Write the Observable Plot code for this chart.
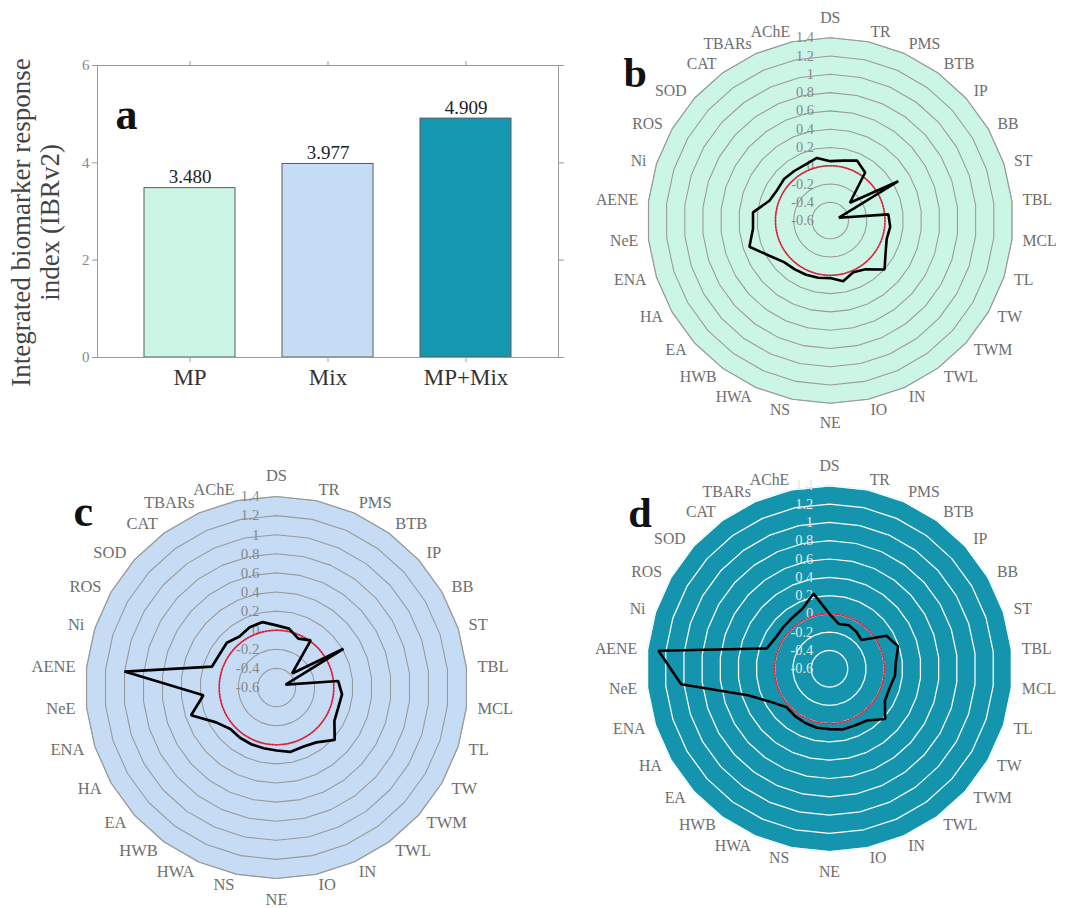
<!DOCTYPE html>
<html><head><meta charset="utf-8">
<script src="https://cdn.jsdelivr.net/npm/d3@7"></script>
<script src="https://cdn.jsdelivr.net/npm/@observablehq/plot@0.6"></script>
<style>
body{margin:0;background:#fff;}
#root{position:relative;width:1078px;height:908px;overflow:hidden;font-family:"Liberation Serif","Times New Roman",serif;}
.panel{position:absolute;}
.panel svg, .panel svg text{font-family:"Liberation Serif","Times New Roman",serif !important;}
</style></head><body><div id="root"></div>
<script>
// ---- Panel a: bar chart data ----
const groups = ["MP", "Mix", "MP+Mix"];
const ibrValues = [3.480, 3.977, 4.909];
const barFills = ["#cbf5e5", "#c6dcf5", "#1498b0"];
const yTicks = [0, 2, 4, 6];

// ---- Radar panels data ----
const biomarkers = ["DS","TR","PMS","BTB","IP","BB","ST","TBL","MCL","TL","TW","TWM","TWL","IN","IO","NE","NS","HWA","HWB","EA","HA","ENA","NeE","AENE","Ni","ROS","SOD","CAT","TBARs","AChE"];
const mpScores    = [0.05, 0.07, 0.12, 0.05, -0.31, 0.26, -0.50, 0.04, 0.06, 0.05, 0.10, 0.20, 0.06, 0.02, 0.08, 0.03, 0.04, 0.05, 0.06, 0.08, 0.17, 0.33, 0.25, 0.25, 0.10, 0.07, 0.08, 0.07, 0.07, 0.10];
const mixScores   = [0.05, 0.03, -0.04, 0.01, -0.38, 0.21, -0.50, 0.05, 0.09, 0.08, 0.10, 0.22, 0.11, 0.08, 0.09, 0.06, 0.05, 0.05, 0.05, 0.05, 0.13, 0.34, 0.17, 1.00, 0.11, 0.09, 0.10, 0.06, 0.09, 0.10];
const mpMixScores = [0.00, -0.10, -0.08, -0.10, -0.13, 0.12, 0.19, 0.13, 0.12, 0.09, 0.10, 0.22, 0.10, 0.08, 0.08, 0.06, 0.06, 0.05, 0.04, 0.03, 0.13, 0.34, 1.03, 1.28, 0.12, 0.08, 0.08, 0.09, 0.12, 0.24];
const ringTicks = [-0.6, -0.4, -0.2, 0, 0.2, 0.4, 0.6, 0.8, 1, 1.2, 1.4];
const ringTickLabels = ["-0.6", "-0.4", "-0.2", "0", "0.2", "0.4", "0.6", "0.8", "1", "1.2", "1.4"];
const referenceValue = 0;

const root = document.getElementById("root");
const FONT = "'Liberation Serif', 'Times New Roman', serif";

function place(node, left, top) {
  const d = document.createElement("div");
  d.className = "panel";
  d.style.left = left + "px";
  d.style.top = top + "px";
  d.appendChild(node);
  root.appendChild(d);
}

// ---- Bar chart ----
const barData = groups.map((g, i) => ({group: g, value: ibrValues[i], label: ibrValues[i].toFixed(3)}));
const barChart = Plot.plot({
  width: 580, height: 420,
  marginLeft: 97, marginRight: 22, marginTop: 65, marginBottom: 63,
  style: {fontFamily: FONT, background: "transparent"},
  x: {domain: groups, padding: 0.34, axis: null},
  y: {domain: [0, 6], axis: null},
  color: {domain: groups, range: barFills},
  marks: [
    Plot.barY(barData, {x: "group", y: "value", fill: "group", stroke: "#5a5a5a", strokeWidth: 1}),
    Plot.frame({stroke: "#9a9a9a"}),
    Plot.axisY({anchor: "left", ticks: yTicks, tickFormat: d => String(d), tickSize: 5, tickPadding: 3, label: null, fontSize: 15, fontFamily: FONT, stroke: "#9a9a9a", fill: "#888"}),
    Plot.axisY({anchor: "right", ticks: yTicks, tickSize: 5, tickFormat: () => "", label: null, stroke: "#9a9a9a"}),
    Plot.axisX({anchor: "top", tickSize: 5, tickFormat: () => "", label: null, stroke: "#9a9a9a"}),
    Plot.axisX({anchor: "bottom", tickSize: 5, tickPadding: 6, label: null, fontSize: 23, fontFamily: FONT, stroke: "#9a9a9a", fill: "#333"}),
    Plot.text(barData, {x: "group", y: "value", text: "label", dy: -11, fontSize: 19, fontFamily: FONT, fill: "#222"}),
    Plot.text(["Integrated biomarker response\nindex (IBRv2)"], {frameAnchor: "left", textAnchor: "middle", rotate: -90, dx: -62, dy: 11, fontSize: 27, fontFamily: FONT, fill: "#444", lineHeight: 1.04}),
    Plot.text(["a"], {frameAnchor: "top-left", dx: 18, dy: 32, fontSize: 44, fontWeight: "bold", fontFamily: FONT, fill: "#111", textAnchor: "start"})
  ]
});
place(barChart, 0, 0);

// ---- Radar helper ----
const N = biomarkers.length;
const PX = 95.5;               // pixels per unit of score
const R0 = ringTicks[0];       // centre value
const angle = i => i * 2 * Math.PI / N;

function radar(scores, opt) {
  const W = 520, H = 460;
  const rOf = v => v - R0;
  const pts = biomarkers.map((b, i) => ({b, i, v: scores[i]}));
  const ringPts = [];
  ringTicks.slice(1).forEach(t => biomarkers.forEach((b, i) => ringPts.push({t, i})));
  const outer = biomarkers.map((b, i) => ({t: ringTicks[ringTicks.length - 1], i}));
  const refCircle = d3.range(180).map(j => ({a: j * 2 * Math.PI / 180, t: referenceValue}));
  const lab = biomarkers.map((b, i) => {
    const s = Math.sin(angle(i));
    const rr = (Math.abs(s) < 0.05 ? 212 : 202) / PX;
    return {b, i, s, x: rr * s, y: rr * Math.cos(angle(i))};
  });
  const tickData = ringTicks.map((t, k) => ({t, label: ringTickLabels[k]}));
  const labOpts = {x: "x", y: "y", text: "b", fontSize: 16.5, fontFamily: FONT, fill: "#6e6e6e"};
  return Plot.plot({
    width: W, height: H, margin: 0,
    style: {fontFamily: FONT, background: "transparent"},
    x: {domain: [-W / 2 / PX, W / 2 / PX], range: [0, W], axis: null},
    y: {domain: [-H / 2 / PX, H / 2 / PX], range: [H, 0], axis: null},
    marks: [
      Plot.line(outer, {x: d => rOf(d.t) * Math.sin(angle(d.i)), y: d => rOf(d.t) * Math.cos(angle(d.i)), curve: "linear-closed", fill: opt.fill, stroke: opt.edge, strokeWidth: 1.2}),
      Plot.line(ringPts, {x: d => rOf(d.t) * Math.sin(angle(d.i)), y: d => rOf(d.t) * Math.cos(angle(d.i)), z: "t", curve: "linear-closed", stroke: opt.grid, strokeWidth: opt.gridWidth}),
      Plot.text(tickData, {x: 0, y: d => rOf(d.t), text: "label", dx: -17, textAnchor: "end", fontSize: 15, fontFamily: FONT, fill: opt.tick}),
      Plot.line(refCircle, {x: d => rOf(d.t) * Math.sin(d.a), y: d => rOf(d.t) * Math.cos(d.a), curve: "linear-closed", stroke: "#e0203a", strokeWidth: 1.7, strokeDasharray: "1.6,1.6"}),
      Plot.line(pts, {x: d => rOf(d.v) * Math.sin(angle(d.i)), y: d => rOf(d.v) * Math.cos(angle(d.i)), curve: "linear-closed", stroke: "#000", strokeWidth: 2.7, strokeLinejoin: "miter"}),
      Plot.text(lab.filter(d => d.s > 0.05), {...labOpts, textAnchor: "start"}),
      Plot.text(lab.filter(d => d.s < -0.05), {...labOpts, textAnchor: "end"}),
      Plot.text(lab.filter(d => Math.abs(d.s) <= 0.05), {...labOpts, textAnchor: "middle"}),
      Plot.text([opt.letter], {frameAnchor: "top-left", dx: opt.ldx, dy: opt.ldy, fontSize: 44, fontWeight: "bold", fontFamily: FONT, fill: "#111", textAnchor: "start"})
    ]
  });
}

// b: centre (840.5, 229.5)
place(radar(mpScores, {fill: "#cbf5e5", edge: "#a9bdb5", grid: "#9a9a9a", gridWidth: 1.1, tick: "#888", letter: "b", ldx: 44, ldy: 59}), 840.5 - 260, 229.5 - 230);
// c: centre (276, 686.5)
place(radar(mixScores, {fill: "#c6dcf5", edge: "#a8b4c4", grid: "#9a9a9a", gridWidth: 1.1, tick: "#888", letter: "c", ldx: 57, ldy: 37}), 276 - 260, 686.5 - 230);
// d: centre (840, 678)
place(radar(mpMixScores, {fill: "#1495ad", edge: "#7fcfdc", grid: "#ffffff", gridWidth: 1.3, tick: "#e6e6e6", letter: "d", ldx: 50, ldy: 51}), 840 - 260, 678 - 230);
</script></body></html>
